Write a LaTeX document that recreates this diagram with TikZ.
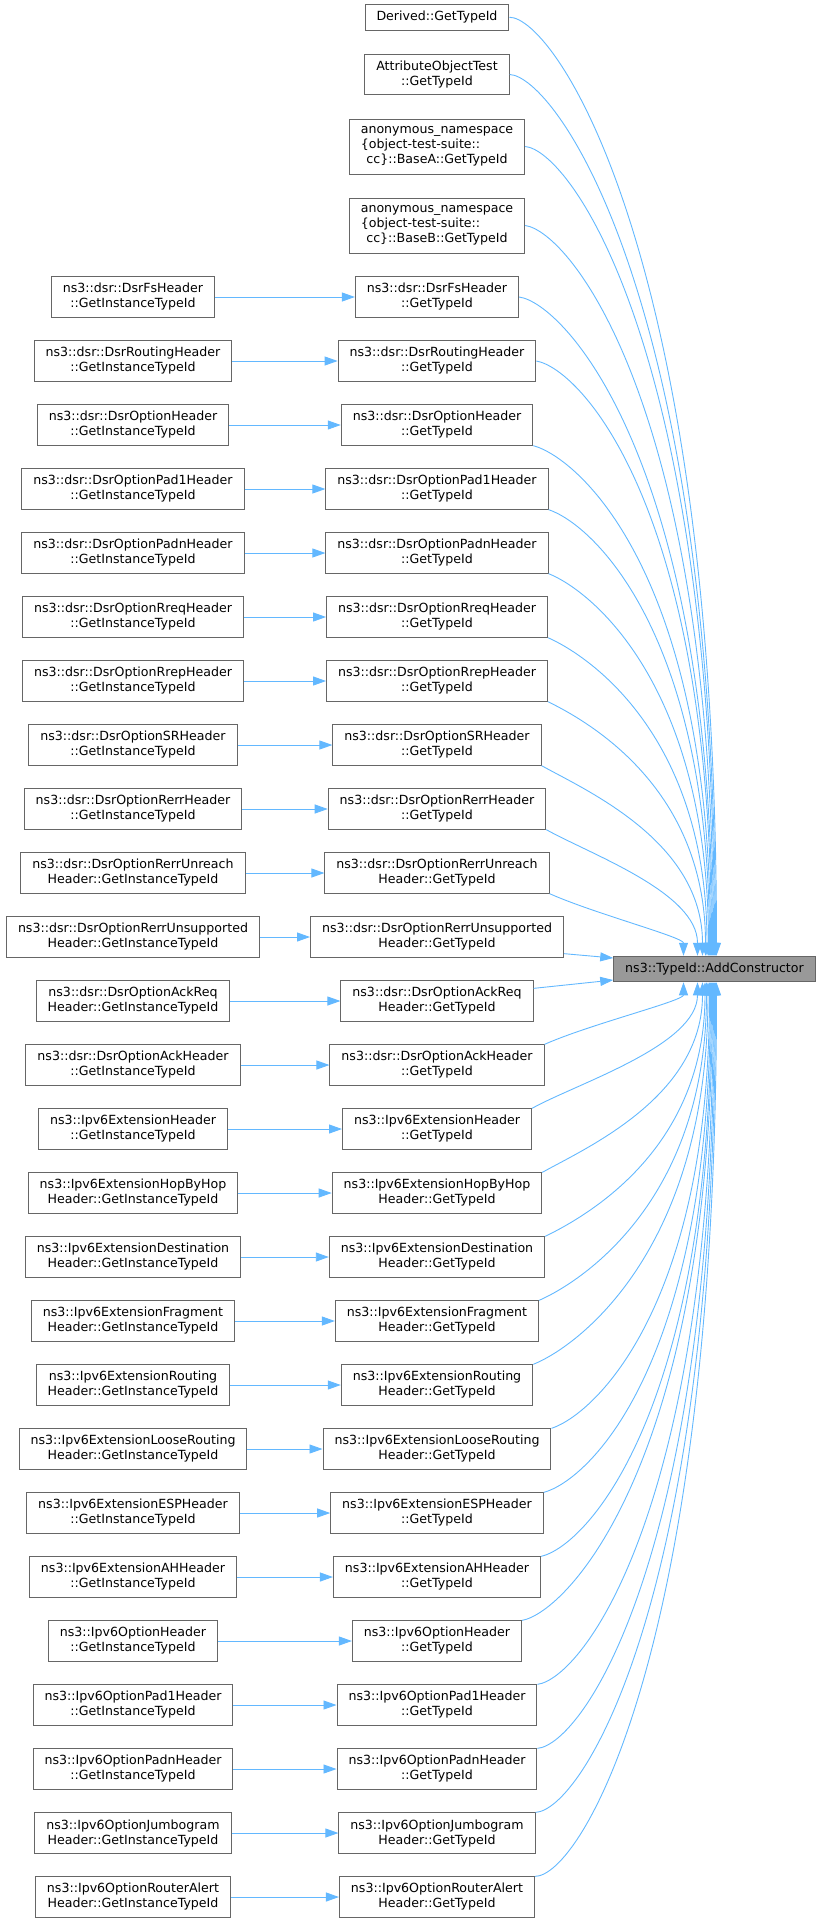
\documentclass[tikz,border=0pt]{standalone}
\usepackage{fontspec}
\setmainfont{DejaVu Sans}
\usetikzlibrary{calc,arrows.meta}
\definecolor{edgeblue}{HTML}{63B8FF}
\definecolor{boxgray}{HTML}{666666}
\definecolor{hlfill}{HTML}{999999}
\newlength{\firstw}
\newcommand{\lalign}[2]{\settowidth{\firstw}{#1}\makebox[\firstw][l]{#2}}
\tikzset{
    every node/.append style={font=\fontsize{12.6}{15}\selectfont},
    fnbox/.style={draw=boxgray, line width=1pt, fill=white, align=center,
        inner xsep=11.5pt, inner ysep=3pt, minimum height=40.3pt},
    calls/.style={draw=edgeblue, line width=0.9pt, -{Triangle[length=13pt,width=9pt]}}}

\begin{document}
\begin{tikzpicture}[x=1pt,y=-1pt]%[scale=.5]
    \useasboundingbox (0,0) rectangle (821,1923);

    \node[fnbox, fill=hlfill, minimum height=25.5pt] (addctor) at (714.5,969) {ns3::TypeId::AddConstructor};

    \node[fnbox, minimum height=25.5pt] (derived) at (437,17.25) {Derived::GetTypeId};
    \node[fnbox] (attrtest) at (437,74.5) {AttributeObjectTest\\::GetTypeId};
    \node[fnbox, minimum height=55pt] (basea) at (437,146.5)
        {anonymous\_namespace\\\lalign{anonymous\_namespace}{\{object-test-suite::}\\cc\}::BaseA::GetTypeId};
    \node[fnbox, minimum height=55pt] (baseb) at (437,225.5)
        {anonymous\_namespace\\\lalign{anonymous\_namespace}{\{object-test-suite::}\\cc\}::BaseB::GetTypeId};

    \foreach \i/\cls/\meth in {
        0/ns3::dsr::DsrFsHeader/::,
        1/ns3::dsr::DsrRoutingHeader/::,
        2/ns3::dsr::DsrOptionHeader/::,
        3/ns3::dsr::DsrOptionPad1Header/::,
        4/ns3::dsr::DsrOptionPadnHeader/::,
        5/ns3::dsr::DsrOptionRreqHeader/::,
        6/ns3::dsr::DsrOptionRrepHeader/::,
        7/ns3::dsr::DsrOptionSRHeader/::,
        8/ns3::dsr::DsrOptionRerrHeader/::,
        9/ns3::dsr::DsrOptionRerrUnreach/Header::,
        10/ns3::dsr::DsrOptionRerrUnsupported/Header::,
        11/ns3::dsr::DsrOptionAckReq/Header::,
        12/ns3::dsr::DsrOptionAckHeader/::,
        13/ns3::Ipv6ExtensionHeader/::,
        14/ns3::Ipv6ExtensionHopByHop/Header::,
        15/ns3::Ipv6ExtensionDestination/Header::,
        16/ns3::Ipv6ExtensionFragment/Header::,
        17/ns3::Ipv6ExtensionRouting/Header::,
        18/ns3::Ipv6ExtensionLooseRouting/Header::,
        19/ns3::Ipv6ExtensionESPHeader/::,
        20/ns3::Ipv6ExtensionAHHeader/::,
        21/ns3::Ipv6OptionHeader/::,
        22/ns3::Ipv6OptionPad1Header/::,
        23/ns3::Ipv6OptionPadnHeader/::,
        24/ns3::Ipv6OptionJumbogram/Header::,
        25/ns3::Ipv6OptionRouterAlert/Header::}{
        \node[fnbox] (l\i) at (133,{297+64*\i}) {\cls\\\meth GetInstanceTypeId};
        \node[fnbox] (r\i) at (437,{297+64*\i}) {\cls\\\meth GetTypeId};
        \draw[calls] (l\i) -- (r\i);
    }

    % into the top of AddConstructor
    \foreach \n/\anc/\cy/\dx/\f in {
        derived/east/0/2/.75, attrtest/east/2/1/.75, basea/east/4/0/.75, baseb/east/6/-1/.75,
        r0/east/6/-2/.75, r1/east/8/-3/.75, r2/south east/12/-4/.75, r3/south east/15/-5/.72,
        r4/south east/18/-6/.7, r5/south east/20/-7.5/.68, r6/south east/22/-9/.65,
        r7/south east/25/-12/.6, r8/south east/25/-17/.5, r9/south east/20/-31/.3}{
        \coordinate (tip) at ([xshift=\dx pt]addctor.north);
        \draw[calls] (\n.\anc) .. controls ($(\n.\anc)+(45,\cy)$) and ($(tip)!\f!(tip |- \n.\anc)$) .. (tip);
    }
    \draw[calls] ([yshift=4pt]r10.south east) -- ([yshift=11pt]addctor.west);
    \draw[calls] ([yshift=-8pt]r11.north east) -- ([yshift=-11pt]addctor.west);
    % into the bottom of AddConstructor
    \foreach \n/\cy/\dx/\f in {
        r12/20/-31/.3, r13/25/-17/.5, r14/25/-12/.6, r15/22/-9.5/.65, r16/20/-8/.68,
        r17/18/-6.5/.7, r18/15/-5/.72, r19/12/-4/.75, r20/10/-3/.75, r21/8/-2/.75,
        r22/6/-1/.75, r23/4/0/.75, r24/2/1/.75, r25/0/2/.75}{
        \coordinate (tip) at ([xshift=\dx pt]addctor.south);
        \draw[calls] (\n.north east) .. controls ($(\n.north east)+(45,-\cy)$) and ($(tip)!\f!(tip |- \n.north east)$) .. (tip);
    }
\end{tikzpicture}
\end{document}
